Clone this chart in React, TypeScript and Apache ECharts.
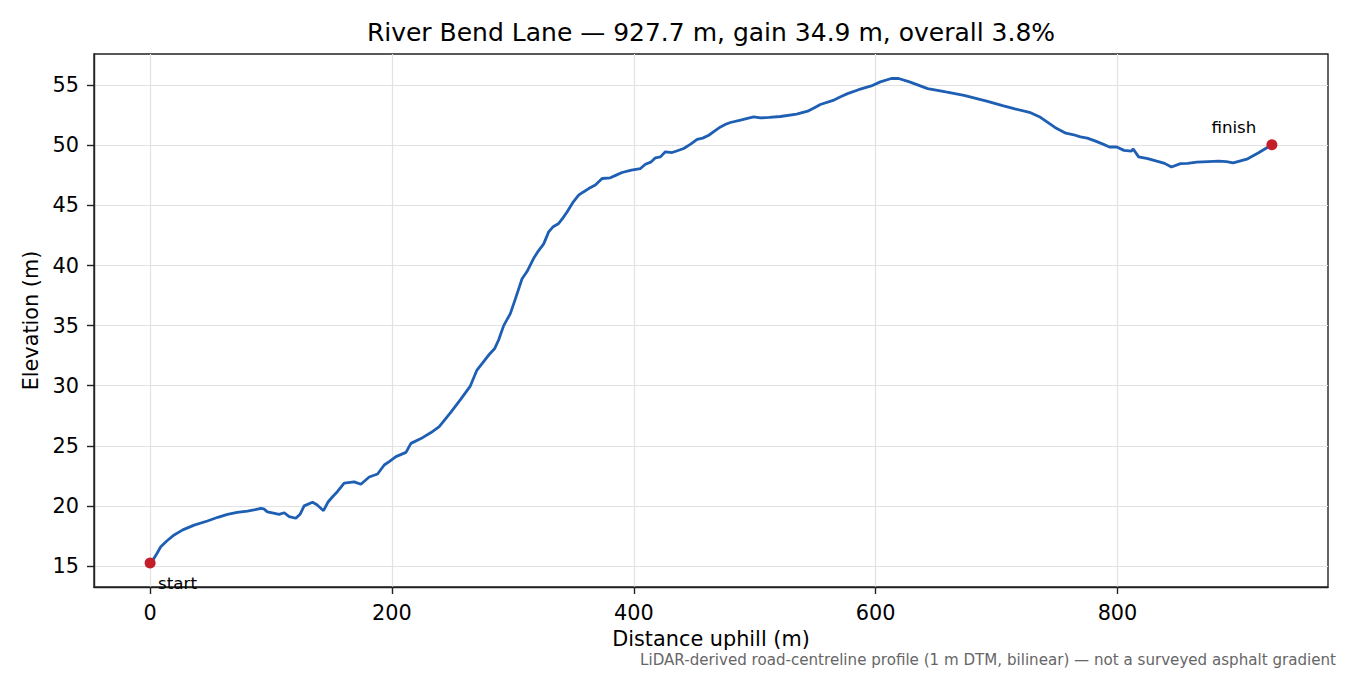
import React, { useEffect, useRef } from 'react';
import * as echarts from 'echarts';

const distances = [
  0, 3, 6, 8.8, 14, 19.9, 27, 36.4, 47.4, 56, 64, 72, 80.5, 87, 91.6, 94, 97, 102, 106.7, 110.9,
  115, 120.5, 124, 127.4, 134.3, 138, 143.4, 147, 150.9, 155, 160.5, 168.8, 174.3, 181.2, 188.1, 193.6,
  198, 203.3, 211.6, 215.7, 224, 232.3, 239.1, 248.8, 257.1, 264.8, 270.3, 275, 280, 285, 288.2, 292.4,
  297.9, 302, 307.6, 311.7, 317.2, 321, 325.5, 329.6, 333, 337.9, 341, 344.8, 350, 354.4, 358, 362.7,
  368.2, 373.8, 380.6, 385, 390.3, 398, 405.5, 409.6, 414, 417.9, 422, 426.1, 431.7, 436, 441.3, 447,
  452.4, 457, 462, 467, 471.7, 476, 479.9, 488.2, 494, 499.2, 504.8, 512, 521.3, 534.7, 543.8, 549,
  554.3, 564.8, 571, 576.8, 585.9, 596.4, 603.9, 612.9, 619, 628, 643, 658, 673.1, 692.6, 705, 715.2,
  727.2, 736.3, 748.3, 757.3, 763, 769.4, 775, 781.4, 788, 793.4, 799.4, 805.4, 811.5, 813, 817.5, 825,
  832.5, 839, 844.6, 852.1, 858, 865.6, 875, 883.7, 890, 895.7, 907.7, 916.7, 927.7,
];
const elevations = [
  15.25, 15.6, 16.1, 16.6, 17.1, 17.58, 18.0, 18.4, 18.74, 19.05, 19.3, 19.45, 19.57, 19.68, 19.8, 19.75, 19.5, 19.4, 19.3, 19.43,
  19.1, 18.97, 19.3, 20.0, 20.3, 20.1, 19.6, 20.3, 20.76, 21.2, 21.9, 22.0, 21.8, 22.4, 22.65, 23.4,
  23.7, 24.1, 24.45, 25.2, 25.6, 26.1, 26.6, 27.8, 28.9, 29.97, 31.3, 31.9, 32.55, 33.1, 33.8, 35.0,
  36.0, 37.2, 38.9, 39.5, 40.6, 41.2, 41.8, 42.8, 43.2, 43.5, 43.9, 44.46, 45.3, 45.85, 46.1, 46.4,
  46.7, 47.24, 47.3, 47.5, 47.74, 47.93, 48.07, 48.43, 48.6, 48.96, 49.04, 49.46, 49.4, 49.55, 49.74, 50.1,
  50.5, 50.6, 50.84, 51.2, 51.53, 51.75, 51.9, 52.09, 52.25, 52.36, 52.28, 52.32, 52.4, 52.6, 52.84, 53.1,
  53.4, 53.74, 54.05, 54.3, 54.63, 54.94, 55.28, 55.56, 55.56, 55.28, 54.72, 54.44, 54.16, 53.65, 53.3, 53.03,
  52.75, 52.33, 51.49, 51.01, 50.9, 50.7, 50.6, 50.37, 50.1, 49.86, 49.86, 49.58, 49.52, 49.7, 49.04, 48.9,
  48.68, 48.5, 48.2, 48.48, 48.5, 48.6, 48.65, 48.68, 48.64, 48.54, 48.88, 49.38, 50.05,
];
const xTicks = [0, 200, 400, 600, 800];
const yTicks = [15, 20, 25, 30, 35, 40, 45, 50, 55];
const endpointLabels = ['start', 'finish'];

const FONT = "'DejaVu Sans', 'Liberation Sans', sans-serif";
const titleText = 'River Bend Lane — 927.7 m, gain 34.9 m, overall 3.8%';
const footnote = 'LiDAR-derived road-centreline profile (1 m DTM, bilinear) — not a surveyed asphalt gradient';

export default function App() {
  const ref = useRef<HTMLDivElement>(null);
  useEffect(() => {
    if (!ref.current) return;
    const chart = echarts.init(ref.current, null, { renderer: 'svg' });
    const line = distances.map((d, i) => [d, elevations[i]]);
    const last = distances.length - 1;
    const endpoints = [
      {
        value: [distances[0], elevations[0]],
        label: {
          show: true,
          formatter: endpointLabels[0],
          position: [13.5, 25.5],
          align: 'left',
          verticalAlign: 'middle',
        },
      },
      {
        value: [distances[last], elevations[last]],
        label: {
          show: true,
          formatter: endpointLabels[1],
          position: [-32.5, -12.5],
          align: 'center',
          verticalAlign: 'middle',
        },
      },
    ];
    const axisColor = '#222222';
    chart.setOption({
      animation: false,
      textStyle: { fontFamily: FONT },
      title: {
        text: titleText,
        left: 711,
        top: 20,
        padding: 0,
        textAlign: 'center',
        textStyle: { fontFamily: FONT, fontSize: 25, fontWeight: 'normal', color: '#000' },
      },
      grid: {
        left: 94,
        right: 22,
        top: 54,
        bottom: 88,
        show: true,
        borderColor: axisColor,
        borderWidth: 1.4,
        containLabel: false,
      },
      xAxis: {
        type: 'value',
        min: -46.4,
        max: 974.1,
        splitNumber: 5,
        name: 'Distance uphill (m)',
        nameLocation: 'middle',
        nameGap: 41,
        nameTextStyle: { fontFamily: FONT, fontSize: 20.8, color: '#000' },
        axisLine: { show: true, onZero: false, lineStyle: { color: axisColor, width: 1.4 } },
        axisTick: { show: true, length: 7, customValues: xTicks, lineStyle: { color: axisColor, width: 1.4 } },
        axisLabel: {
          customValues: xTicks,
          margin: 15,
          fontFamily: FONT,
          fontSize: 20.8,
          color: '#000',
        },
        splitLine: { show: true, lineStyle: { color: '#e2e2e2', width: 1.2 } },
      },
      yAxis: {
        type: 'value',
        min: 13.25,
        max: 57.6,
        splitNumber: 9,
        name: 'Elevation (m)',
        nameLocation: 'middle',
        nameGap: 48,
        nameTextStyle: { fontFamily: FONT, fontSize: 20.8, color: '#000' },
        axisLine: { show: true, onZero: false, lineStyle: { color: axisColor, width: 1.4 } },
        axisTick: { show: true, length: 7, customValues: yTicks, lineStyle: { color: axisColor, width: 1.4 } },
        axisLabel: {
          customValues: yTicks,
          margin: 15,
          fontFamily: FONT,
          fontSize: 20.8,
          color: '#000',
        },
        splitLine: { show: true, lineStyle: { color: '#e2e2e2', width: 1.2 } },
      },
      graphic: [
        {
          type: 'text',
          right: 14,
          top: 652,
          style: {
            text: footnote,
            fontFamily: FONT,
            fontSize: 15.1,
            fill: '#666666',
          },
        },
      ],
      series: [
        {
          type: 'line',
          data: line,
          showSymbol: false,
          symbol: 'none',
          lineStyle: { color: '#1e5fb4', width: 2.8 },
          z: 2,
        },
        {
          type: 'scatter',
          data: endpoints,
          symbolSize: 11,
          itemStyle: { color: '#c41e2a', opacity: 1 },
          label: { fontFamily: FONT, fontSize: 16.7, color: '#000' },
          z: 3,
        },
      ],
    });
    return () => chart.dispose();
  }, []);
  return (
    <div
      ref={ref}
      style={{ position: 'absolute', left: 0, top: 0, width: 1350, height: 675, background: '#fff' }}
    />
  );
}
